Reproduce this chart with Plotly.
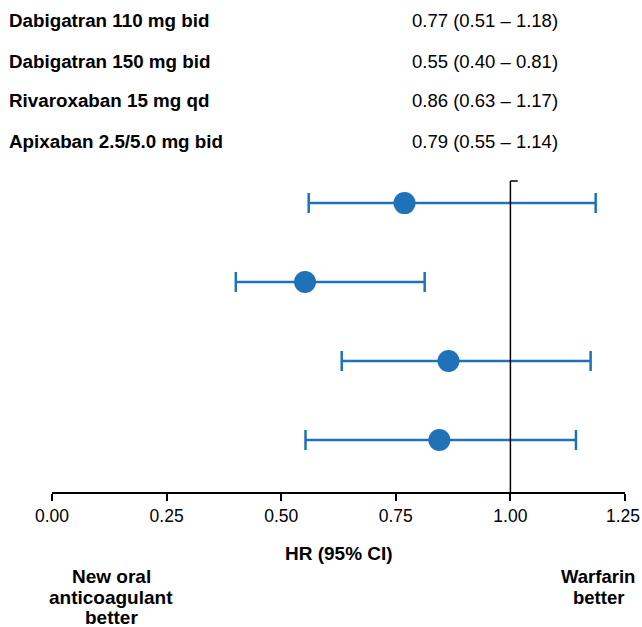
import plotly.graph_objects as go

# Data
treatments = ["Dabigatran 110 mg bid", "Dabigatran 150 mg bid",
              "Rivaroxaban 15 mg qd", "Apixaban 2.5/5.0 mg bid"]
hr_labels = ["0.77 (0.51 \u2013 1.18)", "0.55 (0.40 \u2013 0.81)",
             "0.86 (0.63 \u2013 1.17)", "0.79 (0.55 \u2013 1.14)"]
hr_est = [0.769, 0.552, 0.865, 0.845]
ci_low = [0.560, 0.401, 0.632, 0.553]
ci_high = [1.186, 0.813, 1.175, 1.143]
rows = [1, 2, 3, 4]
tick_vals = [0.0, 0.25, 0.5, 0.75, 1.0, 1.25]
tick_text = ["0.00", "0.25", "0.50", "0.75", "1.00", "1.25"]
left_label = ["New oral", "anticoagulant", "better"]
right_label = ["Warfarin", "better"]

BLUE = "#1f72b8"
FONT = "Liberation Sans, Arial, Helvetica, sans-serif"
W = 573.0
H = 311.0


def px_x(px):
    return (px - 52) / W


def px_y(py):
    return (492 - py) / H


fig = go.Figure()
fig.add_trace(go.Scatter(
    x=hr_est, y=rows, mode="markers",
    marker=dict(size=22, color=BLUE),
    error_x=dict(type="data", symmetric=False,
                 array=[h - e for h, e in zip(ci_high, hr_est)],
                 arrayminus=[e - l for e, l in zip(hr_est, ci_low)],
                 color=BLUE, thickness=2.5, width=10),
    showlegend=False, hoverinfo="skip",
))

# Reference line at HR = 1
fig.add_shape(type="line", xref="x", yref="paper", x0=1, x1=1, y0=0, y1=1,
              line=dict(color="black", width=1.5))
fig.add_shape(type="line", xref="x", yref="paper", x0=1, x1=1.016, y0=1, y1=1,
              line=dict(color="black", width=1.5))

# Top text table
ypos = [20, 61, 101, 141]
for name, lab, yp in zip(treatments, hr_labels, ypos):
    fig.add_annotation(text="<b>" + name + "</b>", xref="paper", yref="paper",
                       x=px_x(7), y=px_y(yp), xanchor="left", yanchor="middle",
                       showarrow=False, font=dict(size=18.8, color="black", family=FONT))
    fig.add_annotation(text=lab, xref="paper", yref="paper",
                       x=px_x(410), y=px_y(yp), xanchor="left", yanchor="middle",
                       showarrow=False, font=dict(size=18.5, color="black", family=FONT))

# Last tick label drawn as annotation so it is not dropped at the page edge
fig.add_annotation(text=tick_text[-1], xref="x", yref="paper",
                   x=tick_vals[-1], y=px_y(516), xanchor="center", yanchor="middle",
                   xshift=-2, showarrow=False,
                   font=dict(size=17.5, color="black", family=FONT))

fig.add_annotation(text="<b>HR (95% CI)</b>", xref="paper", yref="paper",
                   x=px_x(339), y=px_y(553), xanchor="center", yanchor="middle",
                   showarrow=False, font=dict(size=19, color="black", family=FONT))
left_y = [576, 597, 617]
for t, yy in zip(left_label, left_y):
    fig.add_annotation(text="<b>" + t + "</b>", xref="paper", yref="paper",
                       x=px_x(111), y=px_y(yy), xanchor="center", yanchor="middle",
                       showarrow=False, font=dict(size=19, color="black", family=FONT))
for t, yy in zip(right_label, left_y):
    fig.add_annotation(text="<b>" + t + "</b>", xref="paper", yref="paper",
                       x=px_x(598), y=px_y(yy), xanchor="center", yanchor="middle",
                       showarrow=False, font=dict(size=18.5, color="black", family=FONT))

fig.update_xaxes(range=[0, 1.25], tickvals=tick_vals,
                 ticktext=tick_text[:-1] + [""],
                 showgrid=False, zeroline=False, showline=True, linecolor="black",
                 linewidth=1.5, ticks="outside", ticklen=7, tickwidth=1.5, tickcolor="black",
                 automargin=False,
                 tickfont=dict(size=17.5, color="black", family=FONT))
fig.update_yaxes(range=[4.658, 0.72], showgrid=False, zeroline=False,
                 showticklabels=False, showline=False, automargin=False)

fig.update_layout(width=642, height=627,
                  margin=dict(l=52, r=17, t=181, b=135),
                  plot_bgcolor="white", paper_bgcolor="white",
                  font=dict(family=FONT, color="black"))

fig.write_html("out.html")
